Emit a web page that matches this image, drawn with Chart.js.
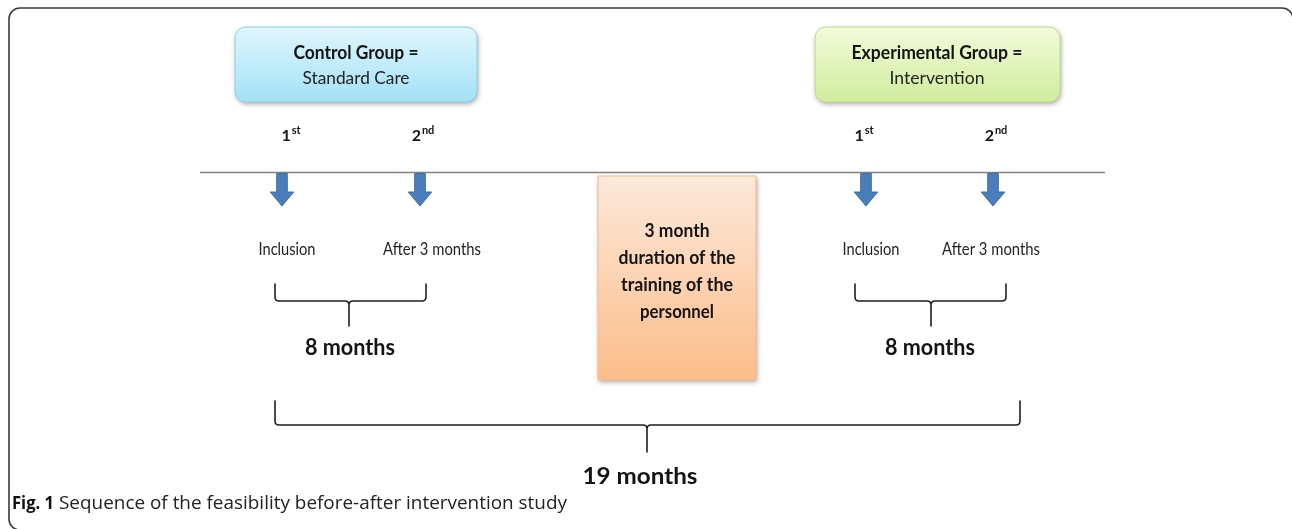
<!DOCTYPE html>
<html><head><meta charset="utf-8">
<script src="https://cdn.jsdelivr.net/npm/chart.js@4/dist/chart.umd.min.js"></script>
<style>html,body{margin:0;padding:0;background:#fff;overflow:hidden}canvas{display:block}</style>
</head><body><canvas id="c" width="1292" height="529" style="width:1292px;height:529px"></canvas>
<script>
// ---- content ----
const groupTitles = ['Control Group =', 'Experimental Group ='];
const groupSubtitles = ['Standard Care', 'Intervention'];
const measurementOrdinals = ['1', '2'];
const measurementSuffixes = ['st', 'nd'];
const measurementNames = ['Inclusion', 'After 3 months'];
const groupPeriods = ['8 months', '8 months'];
const trainingLines = ['3 month', 'duration of the', 'training of the', 'personnel'];
const totalPeriod = ['19 months'];
const captionLabel = ['Fig. 1'];
const captionText = ['Sequence of the feasibility before-after intervention study'];

// ---- layout (diagram coordinates, 1 unit = 1 px) ----
const L = {
  frame: {left: 9, top: 8, right: 1293, bottom: 530, r: 11},
  timeline: {x0: 200, x1: 1105, y: 172.5},
  groups: [
    {box: [235, 27, 242, 75], fill: ['#e0f6fd', '#a3e1f6'], edge: '#8fd0ea', cx: 356,
     titleW: 125, subW: 107, ordX: [291, 423], arrowX: [282, 420], nameX: [287, 432],
     brace: [275, 426, 349], periodX: 350},
    {box: [815, 27, 245, 75], fill: ['#f3fbdc', '#d0ed9c'], edge: '#bcdc86', cx: 937,
     titleW: 171, subW: 95, ordX: [864, 996], arrowX: [866, 993], nameX: [871, 991],
     brace: [855, 1006, 931], periodX: 930}
  ],
  nameW: [57, 98],
  training: {box: [598, 176, 158, 204], cx: 677, lineY: [237, 264, 291, 318], lineW: [65, 117, 112, 74]},
  bigBrace: {x0: 275, x1: 1020, xm: 647, top: 401, mid: 425, bot: 452},
  total: {x: 640, y: 484, w: 115},
  caption: {x: 12, y: 509, labelW: 42, textW: 508}
};

const FONT = 'Lato, "Open Sans", sans-serif';

function fitText(ctx, text, x, y, font, width, align, color) {
  ctx.save();
  ctx.font = font;
  ctx.fillStyle = color || '#141414';
  ctx.textBaseline = 'alphabetic';
  ctx.textAlign = align || 'center';
  const w = ctx.measureText(text).width;
  let s = width ? width / w : 1;
  s = Math.max(0.75, Math.min(1.3, s));
  ctx.translate(x, y);
  ctx.scale(s, 1);
  ctx.fillText(text, 0, 0);
  ctx.restore();
}

const diagramPlugin = {
  id: 'diagram',
  afterDatasetsDraw(chart) {
    const ctx = chart.ctx;
    const sx = chart.scales.x, sy = chart.scales.y;
    const X = v => sx.getPixelForValue(v);
    const Y = v => sy.getPixelForValue(v);

    // outer frame: left, top and bottom sides; the right side lies beyond the picture edge
    const F = L.frame;
    ctx.save();
    ctx.strokeStyle = '#3a3a3a';
    ctx.lineWidth = 1.6;
    ctx.beginPath();
    ctx.moveTo(X(F.right - F.r), Y(F.bottom));
    ctx.lineTo(X(F.left + F.r), Y(F.bottom));
    ctx.arcTo(X(F.left), Y(F.bottom), X(F.left), Y(F.bottom - F.r), F.r);
    ctx.lineTo(X(F.left), Y(F.top + F.r));
    ctx.arcTo(X(F.left), Y(F.top), X(F.left + F.r), Y(F.top), F.r);
    ctx.lineTo(X(F.right - F.r), Y(F.top));
    ctx.arcTo(X(F.right), Y(F.top), X(F.right), Y(F.top + F.r), F.r);
    ctx.stroke();
    ctx.restore();

    function box(b, colors, edge, radius) {
      const x = X(b[0]), y = Y(b[1]), w = X(b[0] + b[2]) - x, h = Y(b[1] + b[3]) - y;
      ctx.save();
      const g = ctx.createLinearGradient(0, y, 0, y + h);
      g.addColorStop(0, colors[0]);
      g.addColorStop(1, colors[1]);
      ctx.shadowColor = 'rgba(0,0,0,0.35)';
      ctx.shadowBlur = 5;
      ctx.shadowOffsetX = 1;
      ctx.shadowOffsetY = 2;
      ctx.fillStyle = g;
      ctx.beginPath();
      if (radius) ctx.roundRect(x, y, w, h, radius); else ctx.rect(x, y, w, h);
      ctx.fill();
      ctx.shadowColor = 'transparent';
      ctx.strokeStyle = edge;
      ctx.lineWidth = 1;
      ctx.stroke();
      ctx.restore();
    }

    function arrow(cx) {
      const top = Y(L.timeline.y + 1), headTop = Y(192), tip = Y(206);
      const sw = 5.3, hw = 11.8;
      const c = X(cx);
      ctx.save();
      ctx.fillStyle = '#4a7ebb';
      ctx.strokeStyle = '#3d6ea6';
      ctx.lineWidth = 1;
      ctx.beginPath();
      ctx.moveTo(c - sw, top);
      ctx.lineTo(c + sw, top);
      ctx.lineTo(c + sw, headTop);
      ctx.lineTo(c + hw, headTop);
      ctx.lineTo(c, tip);
      ctx.lineTo(c - hw, headTop);
      ctx.lineTo(c - sw, headTop);
      ctx.closePath();
      ctx.fill();
      ctx.stroke();
      ctx.restore();
    }

    function brace(x0, x1, xm, top, mid, bot) {
      const r = 4;
      ctx.save();
      ctx.strokeStyle = '#1e1e1e';
      ctx.lineWidth = 1.6;
      ctx.lineCap = 'round';
      ctx.beginPath();
      ctx.moveTo(X(x0), Y(top));
      ctx.lineTo(X(x0), Y(mid - r));
      ctx.quadraticCurveTo(X(x0), Y(mid), X(x0 + r), Y(mid));
      ctx.lineTo(X(xm - r), Y(mid));
      ctx.quadraticCurveTo(X(xm), Y(mid), X(xm), Y(mid + r));
      ctx.lineTo(X(xm), Y(bot));
      ctx.moveTo(X(xm), Y(mid + r));
      ctx.quadraticCurveTo(X(xm), Y(mid), X(xm + r), Y(mid));
      ctx.lineTo(X(x1 - r), Y(mid));
      ctx.quadraticCurveTo(X(x1), Y(mid), X(x1), Y(mid - r));
      ctx.lineTo(X(x1), Y(top));
      ctx.stroke();
      ctx.restore();
    }

    // training box
    const T = L.training;
    box(T.box, ['#fde9da', '#fbbd8a'], '#f2b98c', 0);
    trainingLines.forEach((t, i) => fitText(ctx, t, X(T.cx), Y(T.lineY[i]), 'bold 18px ' + FONT, T.lineW[i]));

    L.groups.forEach((G, gi) => {
      box(G.box, G.fill, G.edge, 11);
      fitText(ctx, groupTitles[gi], X(G.cx), Y(59), 'bold 18px ' + FONT, G.titleW);
      fitText(ctx, groupSubtitles[gi], X(G.cx), Y(84), '18px ' + FONT, G.subW, 'center', '#222');
      measurementOrdinals.forEach((o, mi) => {
        ctx.save();
        ctx.fillStyle = '#141414';
        ctx.font = 'bold 16px ' + FONT;
        const w1 = ctx.measureText(o).width;
        ctx.font = 'bold 11px ' + FONT;
        const w2 = ctx.measureText(measurementSuffixes[mi]).width;
        const start = X(G.ordX[mi]) - (w1 + w2 + 1) / 2;
        ctx.textAlign = 'left';
        ctx.font = 'bold 16px ' + FONT;
        ctx.fillText(o, start, Y(140.5));
        ctx.font = 'bold 11px ' + FONT;
        ctx.fillText(measurementSuffixes[mi], start + w1 + 1, Y(133.5));
        ctx.restore();
        arrow(G.arrowX[mi]);
        fitText(ctx, measurementNames[mi], X(G.nameX[mi]), Y(255), '17px ' + FONT, L.nameW[mi], 'center', '#222');
      });
      brace(G.brace[0], G.brace[1], G.brace[2], 284, 301, 326);
      fitText(ctx, groupPeriods[gi], X(G.periodX), Y(355), 'bold 22px ' + FONT, 90);
    });

    const B = L.bigBrace;
    brace(B.x0, B.x1, B.xm, B.top, B.mid, B.bot);
    fitText(ctx, totalPeriod[0], X(L.total.x), Y(L.total.y), 'bold 22px ' + FONT, L.total.w);

    // caption
    fitText(ctx, captionLabel[0], X(L.caption.x), Y(L.caption.y), 'bold 18px "Open Sans", sans-serif', L.caption.labelW, 'left', '#111');
    fitText(ctx, captionText[0], X(L.caption.x + L.caption.labelW + 5), Y(L.caption.y), '18px "Open Sans", sans-serif', L.caption.textW, 'left', '#222');
  }
};

new Chart(document.getElementById('c'), {
  type: 'scatter',
  data: {
    datasets: [{
      label: 'timeline',
      data: [{x: L.timeline.x0, y: L.timeline.y}, {x: L.timeline.x1, y: L.timeline.y}],
      showLine: true,
      borderColor: '#7f7f7f',
      borderWidth: 1.6,
      pointRadius: 0
    }]
  },
  options: {
    responsive: false,
    devicePixelRatio: 1,
    animation: false,
    layout: {padding: 0, autoPadding: false},
    plugins: {legend: {display: false}, tooltip: {enabled: false}},
    scales: {
      x: {type: 'linear', min: 0, max: 1292, display: false},
      y: {type: 'linear', min: 0, max: 529, reverse: true, display: false}
    }
  },
  plugins: [diagramPlugin]
});
</script></body></html>
